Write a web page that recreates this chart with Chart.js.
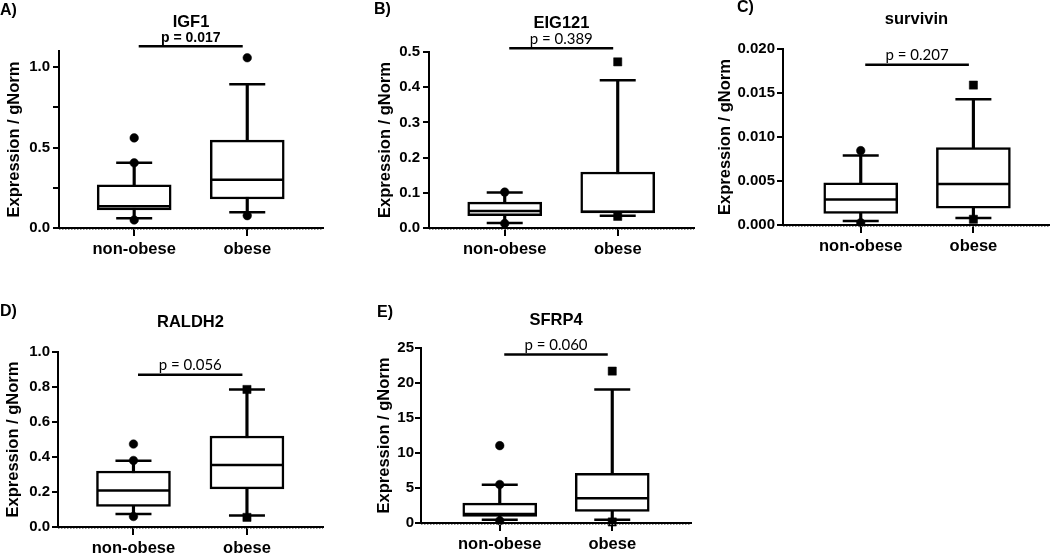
<!DOCTYPE html>
<html><head><meta charset="utf-8">
<script src="https://cdn.jsdelivr.net/npm/chart.js@4.4.0/dist/chart.umd.min.js"></script>
<style>
html,body{margin:0;padding:0;background:#fff;}
body{width:1050px;height:553px;position:relative;overflow:hidden;}
canvas{position:absolute;}
.pl{position:absolute;font:bold 16px "Liberation Sans",Arial,sans-serif;color:#000;line-height:18px;white-space:nowrap;}
</style></head><body>
<canvas id="c0"></canvas><canvas id="c1"></canvas><canvas id="c2"></canvas><canvas id="c3"></canvas><canvas id="c4"></canvas>
<div class="pl" id="l0"></div><div class="pl" id="l1"></div><div class="pl" id="l2"></div><div class="pl" id="l3"></div><div class="pl" id="l4"></div>
<script>
// ---------------- data ----------------
const categories = ['non-obese', 'obese'];
const genes = ['IGF1', 'EIG121', 'survivin', 'RALDH2', 'SFRP4'];
const panelLetters = ['A)', 'B)', 'C)', 'D)', 'E)'];
const pLabels = ['p = 0.017', 'p = 0.389', 'p = 0.207', 'p = 0.056', 'p = 0.060'];
const axisTitle = 'Expression / gNorm';

const whiskerLow  = [[0.06, 0.098], [0.014, 0.035], [0.00045, 0.0008], [0.074, 0.066], [0.47, 0.47]];
const q1          = [[0.112, 0.18], [0.035, 0.043], [0.00133, 0.0019], [0.117, 0.218], [0.95, 1.66]];
const median      = [[0.135, 0.30], [0.048, 0.046], [0.0029, 0.00466], [0.208, 0.355], [1.3, 3.55]];
const q3          = [[0.268, 0.546], [0.0737, 0.159], [0.0048, 0.0088], [0.32, 0.52], [2.85, 7.1]];
const whiskerHigh = [[0.405, 0.894], [0.101, 0.42], [0.0079, 0.0143], [0.379, 0.786], [5.45, 19.07]];
// [category index, value]
const outliers = [
  [[0, 0.56], [0, 0.405], [0, 0.05], [1, 1.058], [1, 0.077]],
  [[0, 0.102], [0, 0.013], [1, 0.472], [1, 0.033]],
  [[0, 0.00845], [0, 0.00026], [1, 0.0159], [1, 0.00065]],
  [[0, 0.474], [0, 0.38], [0, 0.06], [1, 0.786], [1, 0.055]],
  [[0, 11.05], [0, 5.5], [0, 0.33], [1, 21.7], [1, 0.15]]
];
const yMax = [1.1, 0.5, 0.02, 1.0, 25];
const yTickValues = [
  [0, 0.25, 0.5, 0.75, 1.0],
  [0, 0.1, 0.2, 0.3, 0.4, 0.5],
  [0, 0.005, 0.01, 0.015, 0.02],
  [0, 0.2, 0.4, 0.6, 0.8, 1.0],
  [0, 5, 10, 15, 20, 25]
];
const yTickLabels = [
  ['0.0', '', '0.5', '', '1.0'],
  ['0.0', '0.1', '0.2', '0.3', '0.4', '0.5'],
  ['0.000', '0.005', '0.010', '0.015', '0.020'],
  ['0.0', '0.2', '0.4', '0.6', '0.8', '1.0'],
  ['0', '5', '10', '15', '20', '25']
];
const bracketLevel = [1.13, 0.511, 0.0182, 0.87, 24.06];

// ---------------- layout / style ----------------
const ARIAL = '"Liberation Sans", Arial, sans-serif';
const panelGeom = [
  {left: 0,   top: 0,   w: 330, h: 265, axisX: 59,  areaTop: 51,  areaBottom: 228, areaRight: 323,  xMin: -0.665, xMax: 1.67,  titleCX: 14,    geneY: 22,  tickPad: 3, pBold: true,  marker: ['circle', 'circle'], letterX: 0,   letterY: 1},
  {left: 365, top: 0,   w: 335, h: 265, axisX: 429, areaTop: 52,  areaBottom: 228, areaRight: 694,  xMin: -0.67,  xMax: 1.675, titleCX: 385,   geneY: 23,  tickPad: 3, pBold: false, marker: ['circle', 'rect'],   letterX: 374, letterY: 0},
  {left: 705, top: 0,   w: 345, h: 265, axisX: 783, areaTop: 49,  areaBottom: 225, areaRight: 1050, xMin: -0.69,  xMax: 1.68,  titleCX: 725.5, geneY: 19,  tickPad: 2, pBold: false, marker: ['circle', 'rect'],   letterX: 737, letterY: -2},
  {left: 0,   top: 290, w: 330, h: 263, axisX: 58,  areaTop: 352, areaBottom: 527, areaRight: 323,  xMin: -0.665, xMax: 1.67,  titleCX: 13,    geneY: 322, tickPad: 2, pBold: false, marker: ['circle', 'rect'],   letterX: 0,   letterY: 302},
  {left: 365, top: 290, w: 335, h: 263, axisX: 421, areaTop: 348, areaBottom: 523, areaRight: 691,  xMin: -0.70,  xMax: 1.70,  titleCX: 384,   geneY: 320, tickPad: 1, pBold: false, marker: ['circle', 'rect'],   letterX: 377, letterY: 303}
];
const X_H = 30;
const TITLE_FONT = 16.5;

function annotPlugin(i) {
  const g = panelGeom[i];
  return {
    id: 'annot' + i,
    afterDraw(chart) {
      const ctx = chart.ctx, xs = chart.scales.x, ys = chart.scales.y, ca = chart.chartArea;
      ctx.save();
      // faint dotted zero line
      const y0 = ys.getPixelForValue(0);
      ctx.strokeStyle = '#888'; ctx.lineWidth = 1; ctx.setLineDash([1.5, 1.5]);
      ctx.beginPath(); ctx.moveTo(ca.left, y0 + 1.5); ctx.lineTo(ca.right, y0 + 1.5); ctx.stroke();
      ctx.setLineDash([]);
      // gene title
      ctx.fillStyle = '#000';
      ctx.font = 'bold ' + TITLE_FONT + 'px ' + ARIAL;
      ctx.textAlign = 'center'; ctx.textBaseline = 'middle';
      ctx.fillText(genes[i], (ca.left + ca.right) / 2, g.geneY - g.top);
      // bracket + p-value
      const by = ys.getPixelForValue(bracketLevel[i]);
      const bx0 = xs.getPixelForValue(0.04), bx1 = xs.getPixelForValue(0.96);
      ctx.strokeStyle = '#000'; ctx.lineWidth = 2.5;
      ctx.beginPath(); ctx.moveTo(bx0, by); ctx.lineTo(bx1, by); ctx.stroke();
      ctx.font = g.pBold ? ('bold 14px ' + ARIAL) : '15px Lato, "Open Sans", sans-serif';
      ctx.textBaseline = 'alphabetic';
      ctx.fillText(pLabels[i], (bx0 + bx1) / 2, by - 4.5);
      ctx.restore();
    }
  };
}

function makeChart(i) {
  const g = panelGeom[i];
  const canvas = document.getElementById('c' + i);
  canvas.width = g.w; canvas.height = g.h;
  canvas.style.left = g.left + 'px'; canvas.style.top = g.top + 'px';
  const lab = document.getElementById('l' + i);
  lab.textContent = panelLetters[i];
  lab.style.left = g.letterX + 'px'; lab.style.top = g.letterY + 'px';

  const stemData = categories.map((c, k) => ({x: k, y: [whiskerLow[i][k], whiskerHigh[i][k]]}));
  const boxData = categories.map((c, k) => ({x: k, y: [q1[i][k], q3[i][k]]}));
  const capData = [];
  categories.forEach((c, k) => { capData.push({x: k, y: whiskerLow[i][k]}); capData.push({x: k, y: whiskerHigh[i][k]}); });
  const medData = categories.map((c, k) => ({x: k, y: median[i][k]}));
  const outData = [0, 1].map(k => outliers[i].filter(o => o[0] === k).map(o => ({x: o[0], y: o[1]})));

  const lineStyle = (r, ord) => ({
    type: 'scatter', pointStyle: 'line', pointRadius: r, pointHoverRadius: r,
    pointBorderColor: '#000', pointBorderWidth: 2.5, pointHoverBorderWidth: 2.5,
    borderColor: '#000', borderWidth: 2.5, order: ord, clip: false
  });
  const markerStyle = (k) => {
    const st = g.marker[k];
    const r = st === 'rect' ? 5.8 : 4.3;
    return {type: 'scatter', data: outData[k], pointStyle: st, pointRadius: r, pointHoverRadius: r,
      pointBackgroundColor: '#000', pointBorderColor: '#000', pointBorderWidth: 0.5,
      backgroundColor: '#000', borderColor: '#000', order: 0, clip: false};
  };
  const axisGrid = (len) => ({display: true, offset: false, drawOnChartArea: false, drawTicks: true, tickLength: len, color: '#000', lineWidth: 2});

  new Chart(canvas, {
    type: 'bar',
    data: {
      datasets: [
        {type: 'bar', data: stemData, backgroundColor: '#000', borderWidth: 0, barThickness: 2.5, grouped: false, order: 5},
        {type: 'bar', data: boxData, backgroundColor: '#fff', borderColor: '#000', borderWidth: 2.5, borderSkipped: false, barThickness: 74, grouped: false, order: 4},
        Object.assign({data: capData}, lineStyle(18, 3)),
        Object.assign({data: medData}, lineStyle(36, 2)),
        markerStyle(0),
        markerStyle(1)
      ]
    },
    options: {
      responsive: false, animation: false, events: [],
      layout: {autoPadding: false, padding: {top: g.areaTop - g.top, right: g.left + g.w - g.areaRight, bottom: g.h - (g.areaBottom - g.top) - X_H, left: 0}},
      plugins: {legend: {display: false}, tooltip: {enabled: false}, title: {display: false}},
      scales: {
        x: {
          type: 'linear', min: g.xMin, max: g.xMax, offset: false,
          afterBuildTicks: s => { s.ticks = categories.map((c, k) => ({value: k})); },
          afterFit: s => { s.height = X_H; },
          ticks: {callback: v => categories[v], font: {family: ARIAL, size: 16.5, weight: 'bold'}, color: '#000', padding: 4, maxRotation: 0, autoSkip: false},
          grid: axisGrid(8),
          border: {display: true, color: '#000', width: 2}
        },
        y: {
          type: 'linear', min: 0, max: yMax[i],
          afterBuildTicks: s => { s.ticks = yTickValues[i].map(v => ({value: v})); },
          afterFit: s => { s.width = g.axisX - g.left; },
          ticks: {callback: (v, idx) => yTickLabels[i][idx], font: {family: ARIAL, size: 15, weight: 'bold'}, color: '#000', padding: g.tickPad, autoSkip: false},
          grid: axisGrid(6),
          border: {display: true, color: '#000', width: 2},
          title: {display: true, text: axisTitle, color: '#000', font: {family: ARIAL, size: TITLE_FONT, weight: 'bold'},
                  padding: {top: g.titleCX - g.left - TITLE_FONT * 0.6, bottom: 0}}
        }
      }
    },
    plugins: [annotPlugin(i)]
  });
}
for (let i = 0; i < 5; i++) makeChart(i);
</script>
</body></html>
